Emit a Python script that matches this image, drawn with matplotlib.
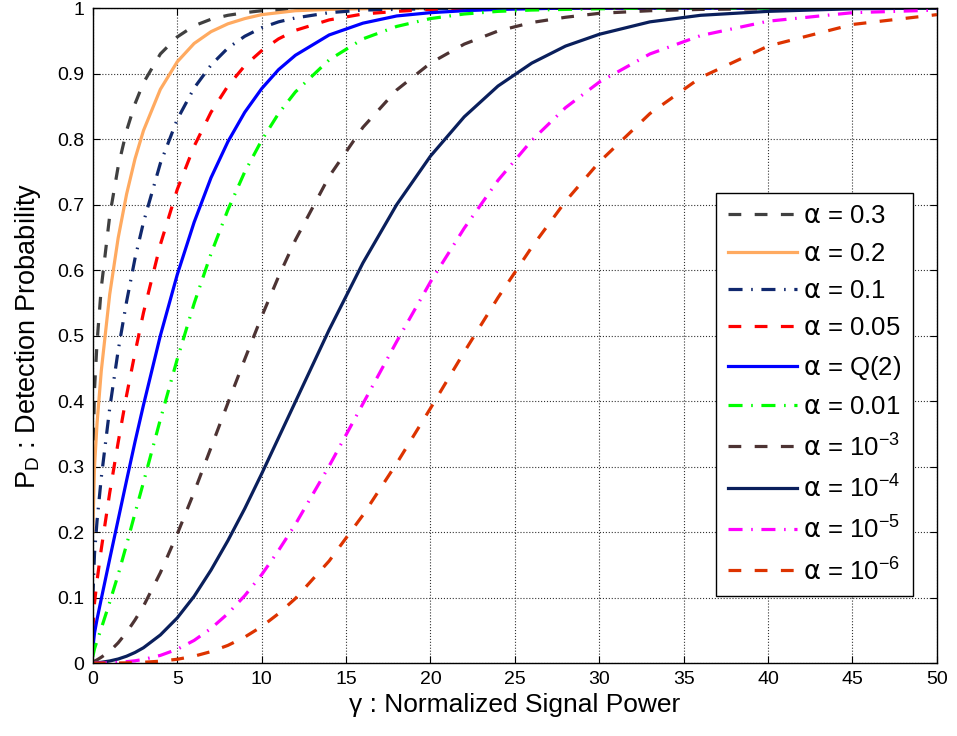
import matplotlib.pyplot as plt

plt.rcParams['font.family'] = ['Liberation Sans', 'DejaVu Sans']

# gamma samples (normalized signal power)
gamma = [0, 0.1, 0.25, 0.5, 1, 1.5, 2, 2.5, 3, 4, 5, 6, 7, 8, 9, 10, 11, 12,
         14, 16, 18, 20, 22, 24, 26, 28, 30, 33, 36, 40, 45, 50]

# detection probability
pd_03 = [0.300, 0.418, 0.490, 0.573, 0.683, 0.758, 0.813, 0.854, 0.886, 0.930, 0.956, 0.973,
         0.983, 0.989, 0.993, 0.996, 0.997, 0.998, 0.999, 1, 1, 1, 1, 1, 1, 1, 1, 1, 1, 1, 1, 1]
pd_02 = [0.200, 0.300, 0.366, 0.446, 0.563, 0.649, 0.716, 0.770, 0.813, 0.876, 0.918, 0.946,
         0.964, 0.976, 0.984, 0.990, 0.993, 0.996, 0.998, 0.999, 1, 1, 1, 1, 1, 1, 1, 1, 1, 1, 1, 1]
pd_01 = [0.100, 0.167, 0.217, 0.283, 0.389, 0.477, 0.552, 0.618, 0.673, 0.763, 0.830, 0.878,
         0.913, 0.939, 0.957, 0.970, 0.979, 0.985, 0.993, 0.997, 0.998, 0.999, 1, 1, 1, 1, 1, 1, 1, 1, 1, 1]
pd_005 = [0.050, 0.092, 0.126, 0.174, 0.260, 0.337, 0.409, 0.474, 0.535, 0.639, 0.723, 0.789,
          0.841, 0.881, 0.912, 0.935, 0.953, 0.966, 0.982, 0.991, 0.995, 0.998, 0.999, 0.999,
          1, 1, 1, 1, 1, 1, 1, 1]
pd_q2 = [0.023, 0.046, 0.067, 0.098, 0.159, 0.219, 0.279, 0.338, 0.394, 0.500, 0.593, 0.673,
         0.741, 0.796, 0.841, 0.877, 0.906, 0.928, 0.959, 0.977, 0.988, 0.993, 0.996, 0.998,
         0.999, 1, 1, 1, 1, 1, 1, 1]
pd_001 = [0.010, 0.022, 0.034, 0.053, 0.093, 0.135, 0.181, 0.229, 0.276, 0.372, 0.464, 0.549,
          0.625, 0.692, 0.750, 0.798, 0.839, 0.872, 0.921, 0.953, 0.972, 0.984, 0.991, 0.995,
          0.997, 0.998, 0.999, 1, 1, 1, 1, 1]
pd_1e3 = [0.001, 0.003, 0.005, 0.009, 0.018, 0.031, 0.047, 0.066, 0.087, 0.138, 0.197, 0.261,
          0.329, 0.397, 0.464, 0.529, 0.590, 0.646, 0.743, 0.818, 0.875, 0.916, 0.945, 0.965,
          0.978, 0.986, 0.992, 0.996, 0.998, 0.999, 1, 1]
pd_1e4 = [0.0001, 0.0003, 0.0006, 0.0013, 0.0033, 0.0063, 0.0106, 0.0163, 0.0235, 0.043, 0.069,
          0.102, 0.142, 0.187, 0.236, 0.289, 0.344, 0.399, 0.509, 0.611, 0.700, 0.774, 0.834,
          0.881, 0.916, 0.942, 0.960, 0.979, 0.989, 0.995, 0.999, 1]
pd_1e5 = [0, 0, 0.0001, 0.0002, 0.0005, 0.0012, 0.0022, 0.0036, 0.0057, 0.0118, 0.0212, 0.0347,
          0.0529, 0.0756, 0.103, 0.135, 0.172, 0.212, 0.301, 0.396, 0.491, 0.582, 0.664, 0.737,
          0.798, 0.848, 0.887, 0.930, 0.958, 0.980, 0.993, 0.997]
pd_1e6 = [0, 0, 0, 0, 0.0001, 0.0002, 0.0004, 0.0008, 0.0013, 0.0030, 0.0059, 0.0106, 0.0176,
          0.0271, 0.0398, 0.0558, 0.0756, 0.0987, 0.156, 0.226, 0.305, 0.389, 0.475, 0.558,
          0.635, 0.705, 0.765, 0.839, 0.894, 0.942, 0.975, 0.990]

labels = [r'$\alpha$ = 0.3', r'$\alpha$ = 0.2', r'$\alpha$ = 0.1', r'$\alpha$ = 0.05',
          r'$\alpha$ = Q(2)', r'$\alpha$ = 0.01', r'$\alpha$ = 10$^{-3}$',
          r'$\alpha$ = 10$^{-4}$', r'$\alpha$ = 10$^{-5}$', r'$\alpha$ = 10$^{-6}$']
series = [pd_03, pd_02, pd_01, pd_005, pd_q2, pd_001, pd_1e3, pd_1e4, pd_1e5, pd_1e6]
colors = ['#404040', '#ffaa60', '#10286e', '#ff0000', '#0000ff', '#00ff00',
          '#4d3333', '#0a1f5c', '#ff00ff', '#dd3300']
styles = ['dash', 'solid', 'dashdot', 'dash', 'solid', 'dashdot',
          'dash', 'solid', 'dashdot', 'dash']
# MATLAB-like dash patterns (in linewidth units)
patterns = {'dash': (0, (4.0, 4.2)), 'dashdot': (0, (4.4, 2.7, 0.5, 2.7)), 'solid': '-'}

plt.rcParams['mathtext.fontset'] = 'custom'
plt.rcParams['mathtext.rm'] = 'Liberation Sans'
plt.rcParams['mathtext.it'] = 'DejaVu Sans'

fig = plt.figure(figsize=(9.57, 7.36), dpi=100)
ax = fig.add_axes([0.097, 0.099, 0.882, 0.89])

for y, lab, c, st in zip(series, labels, colors, styles):
    ax.plot(gamma, y, linestyle=patterns[st], color=c, lw=2.3, label=lab)

ax.set_xlim(0, 50)
ax.set_ylim(0, 1)
ax.set_xticks(range(0, 51, 5))
ax.set_yticks([i / 10 for i in range(11)])
ax.set_yticklabels(['0', '0.1', '0.2', '0.3', '0.4', '0.5', '0.6', '0.7', '0.8', '0.9', '1'])
ax.tick_params(direction='in', labelsize=14, top=True, right=True, length=5, pad=6)
ax.grid(True, linestyle=':', color='#333333', lw=0.8)
for sp in ax.spines.values():
    sp.set_linewidth(1.0)

ax.set_xlabel('γ : Normalized Signal Power', fontsize=19, labelpad=3)
ax.set_ylabel('P$_\\mathrm{D}$ : Detection Probability', fontsize=19.5, labelpad=10)

leg = ax.legend(loc='upper right', bbox_to_anchor=(0.972, 0.718), fontsize=18.5,
                handlelength=2.7, labelspacing=0.52, fancybox=False, framealpha=1,
                edgecolor='black', borderpad=0.45, handletextpad=0.25, borderaxespad=0)
leg.get_frame().set_linewidth(1.0)

fig.savefig('out.png', dpi=100)
